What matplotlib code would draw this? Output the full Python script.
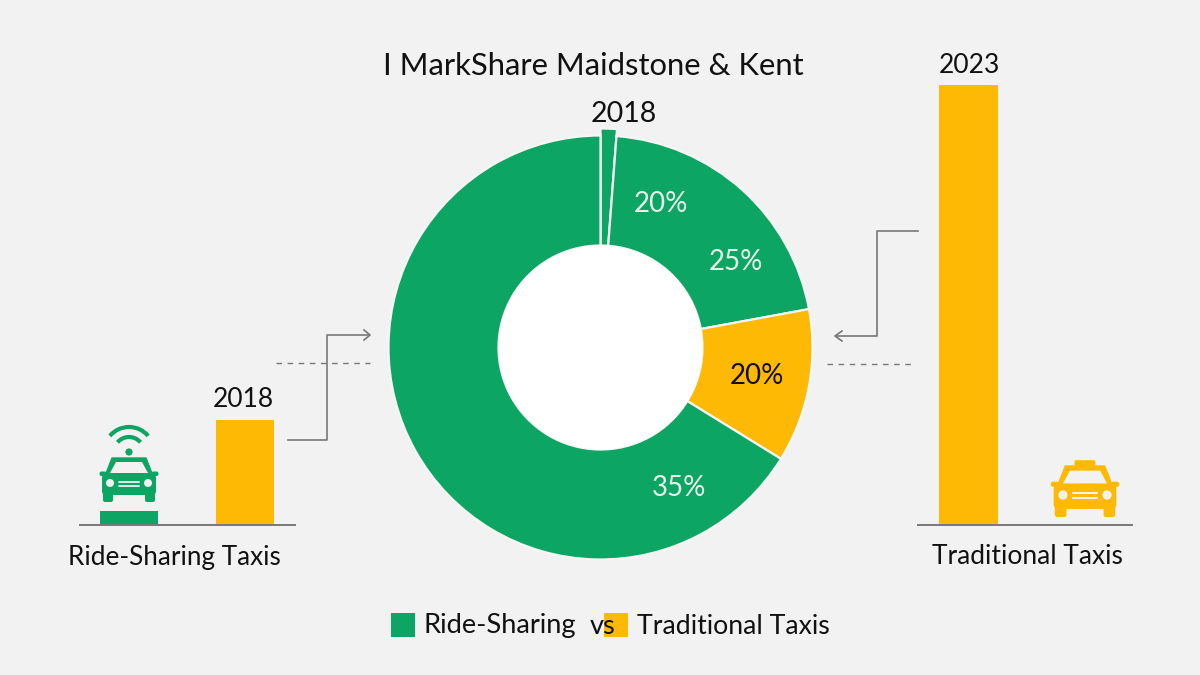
import matplotlib
matplotlib.use("Agg")
import matplotlib.pyplot as plt
from matplotlib.patches import Rectangle, Polygon, Circle, FancyBboxPatch, Arc

W, H = 1200, 675
BG = "#f2f2f2"
GREEN = "#0ca563"
YELLOW = "#fdb903"
GREY = "#77787a"
INK = "#111111"

plt.rcParams["font.family"] = ["Lato", "Roboto", "DejaVu Sans"]

# Data
title = "I MarkShare Maidstone & Kent"
donut_year = "2018"
donut_shares = [1.2, 20.9, 11.7, 66.2]
donut_colors = [GREEN, GREEN, YELLOW, GREEN]
donut_labels = ["20%", "25%", "20%", "35%"]
left_categories = ["Ride-Sharing", "Traditional"]
left_values = [3.2, 23.9]
left_colors = [GREEN, YELLOW]
left_year = "2018"
left_label = "Ride-Sharing Taxis"
right_values = [100]
right_year = "2023"
right_label = "Traditional Taxis"
legend_items = ["Ride-Sharing", "vs", "Traditional Taxis"]

fig = plt.figure(figsize=(W / 100, H / 100), dpi=100, facecolor=BG)


def axes_px(x0, y0, x1, y1, **kw):
    return fig.add_axes([x0 / W, 1 - y1 / H, (x1 - x0) / W, (y1 - y0) / H], **kw)


# Overlay in pixel coordinates for connectors, icons and text
ov = axes_px(0, 0, W, H, zorder=5)
ov.set_xlim(0, W)
ov.set_ylim(H, 0)
ov.axis("off")
ov.patch.set_alpha(0)

# Donut
R_PX = 212
cx, cy = 600.5, 347.5
pa = axes_px(cx - 1.25 * R_PX, cy - 1.25 * R_PX, cx + 1.25 * R_PX, cy + 1.25 * R_PX, zorder=2)
hole = 102 / R_PX
wedges, _ = pa.pie(
    donut_shares, colors=donut_colors, startangle=90, counterclock=False, radius=1,
    wedgeprops=dict(width=1 - hole, edgecolor="#f4f7f4", linewidth=1.6),
)
wedges[0].set_radius(1.033)
wedges[0].set_width(1.033 - hole)
pa.add_patch(Circle((0, 0), hole, facecolor="#ffffff", edgecolor="none", zorder=3))
pa.set_xlim(-1.25, 1.25)
pa.set_ylim(-1.25, 1.25)

# Left bars
la = axes_px(80, 85, 295, 525, zorder=2)
la.bar([0, 1], left_values, width=0.5, color=left_colors)
la.set_xlim(-0.422, 1.431)
# Right bar
ra = axes_px(918, 85, 1132, 525, zorder=2)
ra.bar([0], right_values, width=1, color=YELLOW)
ra.set_xlim(-0.856, 2.77)
for a in (la, ra):
    a.set_ylim(0, 100)
    a.patch.set_alpha(0)
    a.set_xticks([])
    a.set_yticks([])
    for s in ("top", "left", "right"):
        a.spines[s].set_visible(False)
    a.spines["bottom"].set_color(GREY)
    a.spines["bottom"].set_linewidth(1.4)


def car(cxp, top, s, color, sign=False):
    def X(v):
        return cxp + v * s

    def Y(v):
        return top + v * s

    if sign:
        ov.add_patch(FancyBboxPatch((X(-9), Y(-5)), 18 * s, 6 * s, boxstyle=f"round,pad=0,rounding_size={1.5 * s}",
                                    fc=color, ec="none"))
    ov.add_patch(Polygon([(X(-17), Y(0)), (X(17), Y(0)), (X(24), Y(18)), (X(-24), Y(18))],
                         closed=True, fc=color, ec=color, lw=1, joinstyle="round"))
    ov.add_patch(Polygon([(X(-13), Y(4)), (X(13), Y(4)), (X(19), Y(15)), (X(-19), Y(15))],
                         closed=True, fc=BG, ec="none"))
    ov.add_patch(FancyBboxPatch((X(-27), Y(16)), 54 * s, 21 * s, boxstyle=f"round,pad=0,rounding_size={4 * s}",
                                fc=color, ec="none"))
    for sgn in (-1, 1):
        ov.add_patch(FancyBboxPatch((X(sgn * 26 - 3.5), Y(13.5)), 7 * s, 4.5 * s,
                                    boxstyle=f"round,pad=0,rounding_size={2 * s}", fc=color, ec="none"))
        ov.add_patch(FancyBboxPatch((X(sgn * 21 - 5), Y(33)), 10 * s, 11 * s,
                                    boxstyle=f"round,pad=0,rounding_size={2 * s}", fc=color, ec="none"))
        ov.add_patch(Circle((X(sgn * 19), Y(25)), 4 * s, fc=BG, ec="none"))
    for yy in (23.5, 27.5):
        ov.plot([X(-10), X(10)], [Y(yy), Y(yy)], color=BG, lw=1.3 * s, solid_capstyle="round")


car(129, 458, 1.0, GREEN)
car(1085, 466, 1.16, YELLOW, sign=True)

# Wi-Fi symbol above the car
ov.add_patch(Circle((129, 452), 3.6, fc=GREEN, ec="none"))
for r in (15, 25):
    ov.add_patch(Arc((129, 452), 2 * r, 2 * r, theta1=220, theta2=320, color=GREEN, lw=3))

# Connectors
ov.plot([288, 327, 327, 369], [440, 440, 335, 335], color=GREY, lw=1.2)
ov.plot([364, 370, 364], [330, 335, 340], color=GREY, lw=1.2)
ov.plot([918, 877, 877, 836], [231, 231, 336, 336], color=GREY, lw=1.2)
ov.plot([842, 835, 842], [331, 336, 341], color=GREY, lw=1.2)
ov.plot([276, 370], [363, 363], color=GREY, lw=1, dashes=(4, 4))
ov.plot([827, 912], [364, 364], color=GREY, lw=1, dashes=(4, 4))

# Text
ov.text(593.5, 66, title, ha="center", va="center", fontsize=22.3, color=INK)
ov.text(624, 113.5, donut_year, ha="center", va="center", fontsize=20.5, color=INK)
ov.text(243.5, 399.5, left_year, ha="center", va="center", fontsize=19, color=INK)
ov.text(969, 65.5, right_year, ha="center", va="center", fontsize=19, color=INK)
ov.text(174, 557, left_label, ha="center", va="center", fontsize=18.8, color=INK)
ov.text(1027, 556, right_label, ha="center", va="center", fontsize=19, color=INK)

LIGHT = "#e6f4ec"
ov.text(661, 204, donut_labels[0], ha="center", va="center", fontsize=20, color=LIGHT)
ov.text(736, 262.5, donut_labels[1], ha="center", va="center", fontsize=20, color=LIGHT)
ov.text(757, 376.5, donut_labels[2], ha="center", va="center", fontsize=20, color=INK)
ov.text(679, 488.5, donut_labels[3], ha="center", va="center", fontsize=20, color=LIGHT)

# Legend
ov.add_patch(Rectangle((391, 613), 24, 24, fc=GREEN, ec="none"))
ov.add_patch(Rectangle((604, 613), 24, 24, fc=YELLOW, ec="none"))
ov.text(424, 626, legend_items[0], ha="left", va="center", fontsize=19.6, color=INK)
ov.text(590, 627, legend_items[1], ha="left", va="center", fontsize=19.6, color=INK)
ov.text(637, 626, legend_items[2], ha="left", va="center", fontsize=19.2, color=INK)

fig.savefig("out.png", dpi=100, facecolor=BG)
